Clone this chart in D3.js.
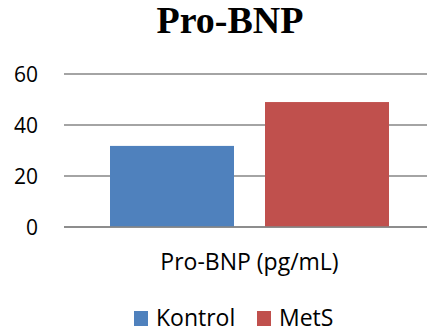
<!DOCTYPE html>
<html><head><meta charset="utf-8">
<script src="https://cdn.jsdelivr.net/npm/d3@7"></script>
<style>html,body{margin:0;padding:0;background:#fff;overflow:hidden}</style>
</head><body>
<script>
const title = "Pro-BNP";
const category = ["Pro-BNP (pg/mL)"];
const seriesNames = ["Kontrol", "MetS"];
const seriesValues = [31.8, 49.0];
const seriesColors = ["#4F81BD", "#C0504D"];
const yTicks = [0, 20, 40, 60];

const W = 427, H = 334;
const svg = d3.select("body").append("svg").attr("width", W).attr("height", H);
const font = "'Open Sans', 'Liberation Sans', sans-serif";

const x0 = d3.scaleBand().domain(category).range([64, 435]).paddingInner(0).paddingOuter(0);
const y = d3.scaleLinear().domain([0, 60]).range([227, 74]);
const x1 = d3.scaleBand().domain(seriesNames).range([110, 389]).paddingInner(0.2).paddingOuter(0);

svg.append("text").attr("x", 230).attr("y", 33).attr("text-anchor", "middle")
  .attr("font-family", "'Liberation Serif', 'Times New Roman', serif").attr("font-weight", "bold")
  .attr("font-size", 38).attr("fill", "#000").text(title);

const yAxis = d3.axisLeft(y).tickValues(yTicks).tickSize(0).tickPadding(0);
const gy = svg.append("g").attr("transform", "translate(38,0)").call(yAxis);
gy.select(".domain").remove();
gy.selectAll("text").attr("font-family", font).attr("font-size", 21).attr("fill", "#000").attr("dy", "0.36em");

svg.append("g").selectAll("line").data(yTicks).join("line")
  .attr("x1", 64).attr("x2", W).attr("y1", d => y(d)).attr("y2", d => y(d))
  .attr("stroke", "#868686").attr("stroke-width", 1.5);

svg.append("g").selectAll("rect").data(seriesNames).join("rect")
  .attr("x", d => x1(d)).attr("width", x1.bandwidth())
  .attr("y", (d, i) => y(seriesValues[i])).attr("height", (d, i) => y(0) - y(seriesValues[i]))
  .attr("fill", (d, i) => seriesColors[i]);

svg.append("g").selectAll("line.base").data([0]).join("line")
  .attr("x1", 64).attr("x2", W).attr("y1", y(0)).attr("y2", y(0))
  .attr("stroke", "#868686").attr("stroke-width", 1.5);

svg.append("text").attr("x", x0(category[0]) + x0.bandwidth() / 2).attr("y", 270)
  .attr("text-anchor", "middle").attr("font-family", font).attr("font-size", 23).attr("fill", "#000")
  .text(category[0]);

const legX = [134, 257];
const leg = svg.append("g").selectAll("g").data(seriesNames).join("g")
  .attr("transform", (d, i) => `translate(${legX[i]},0)`);
leg.append("rect").attr("x", 0).attr("y", 311).attr("width", 14).attr("height", 15)
  .attr("fill", (d, i) => seriesColors[i]);
leg.append("text").attr("x", 22).attr("y", 326).attr("font-family", font).attr("font-size", 23)
  .attr("fill", "#000").text(d => d);
</script>
</body></html>
